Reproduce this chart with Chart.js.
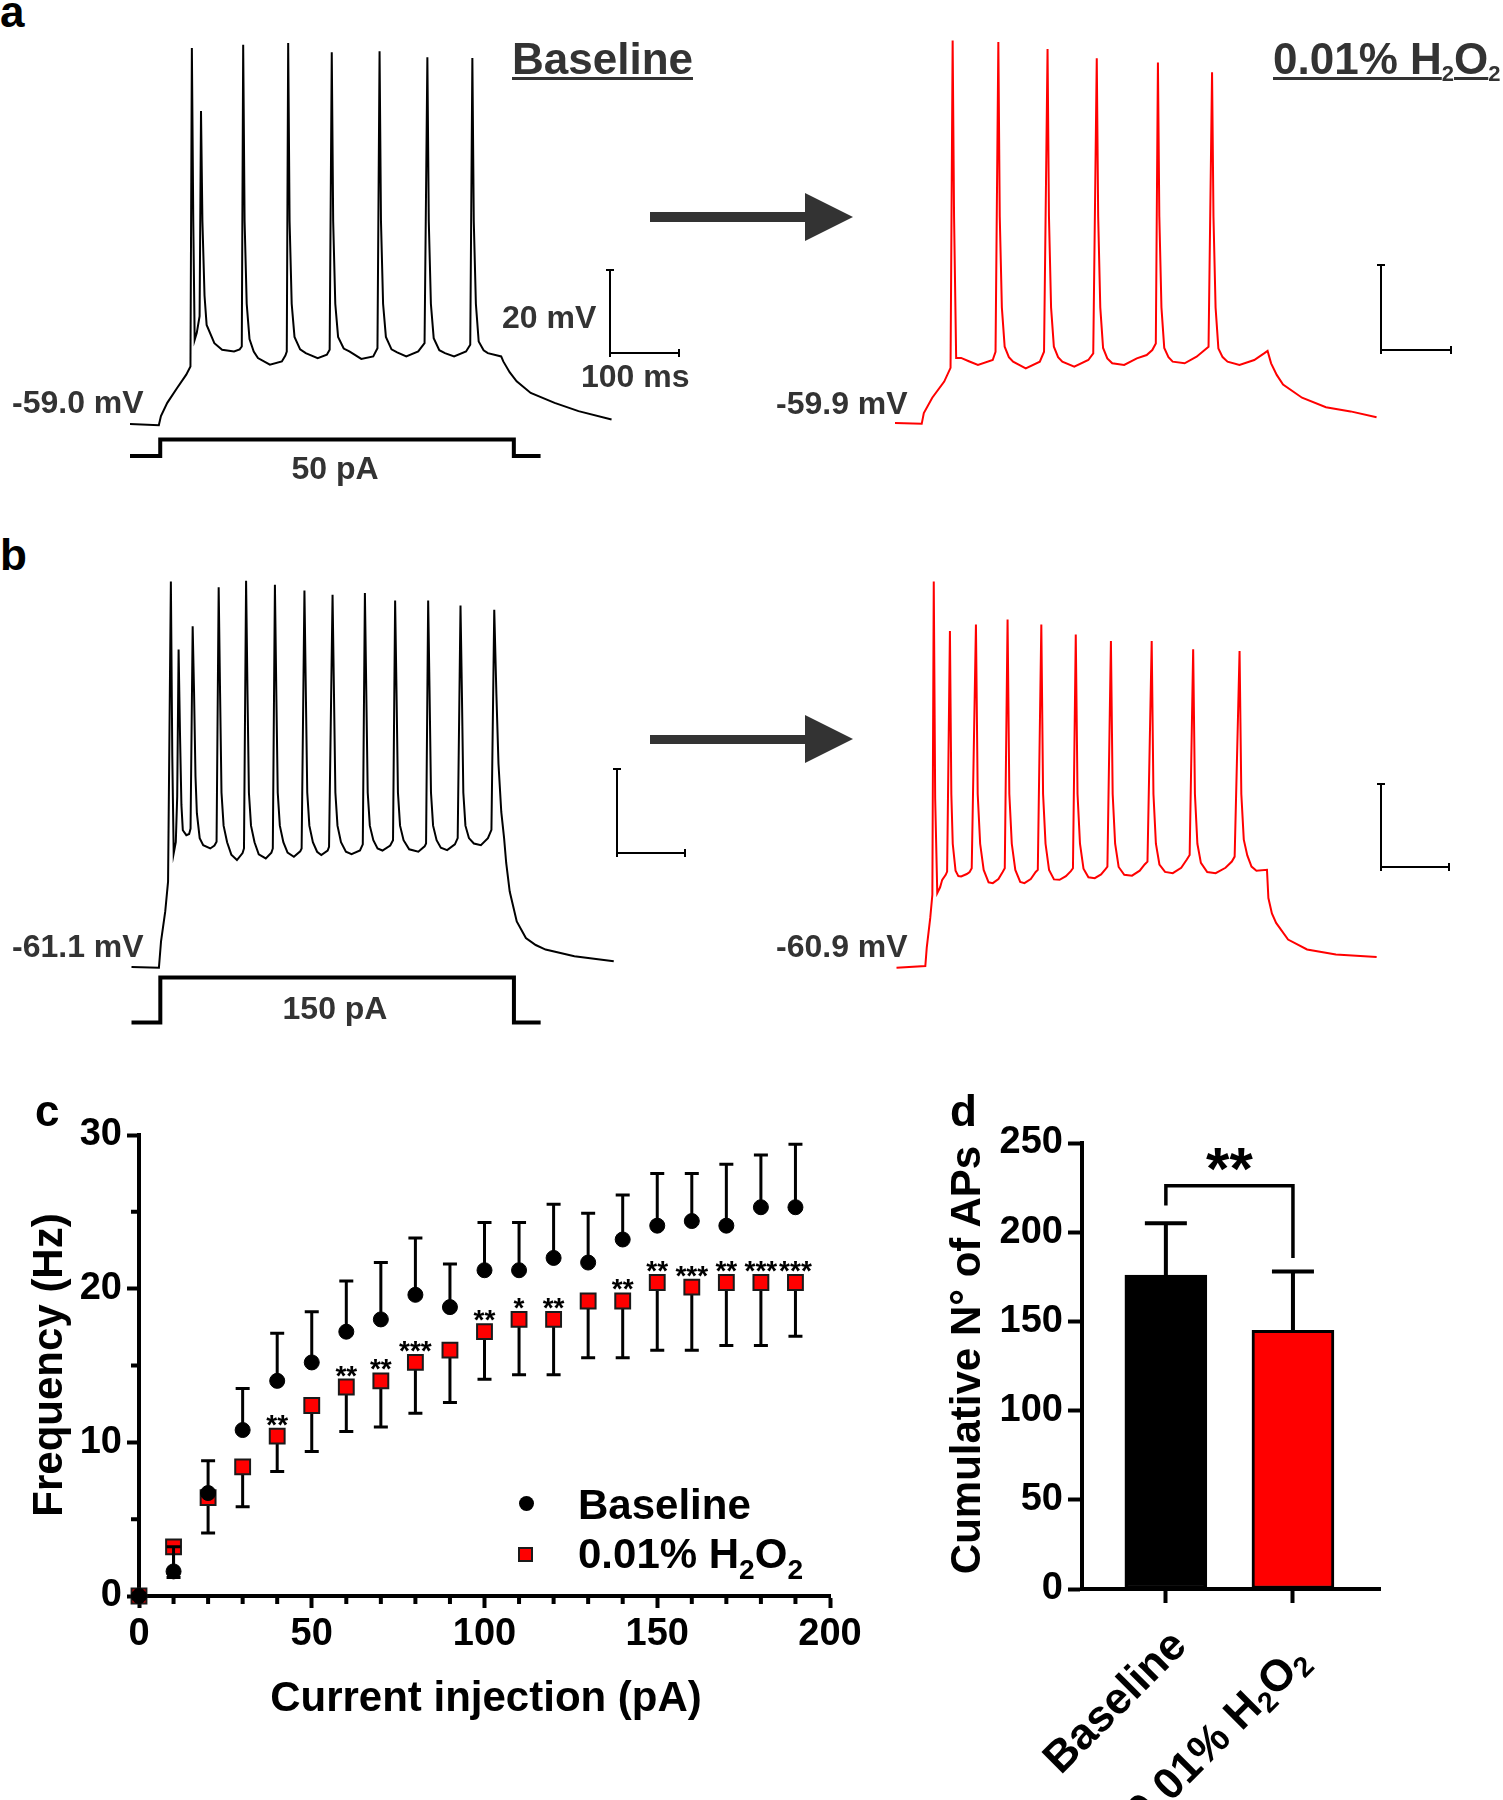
<!DOCTYPE html>
<html>
<head>
<meta charset="utf-8">
<script src="https://cdn.jsdelivr.net/npm/chart.js@4.4.0/dist/chart.umd.min.js"></script>
<style>
  html, body { margin: 0; padding: 0; background: #fff; }
  #fig { position: relative; width: 1503px; height: 1800px; overflow: hidden;
         font-family: 'Liberation Sans', Arial, Helvetica, sans-serif; font-weight: bold; }
  canvas { position: absolute; }
  .t { position: absolute; white-space: nowrap; line-height: 1; }
  .r { position: absolute; }
  sub { font-size: 0.6em; vertical-align: -0.25em; line-height: 0; }
</style>
</head>
<body>
<div id="fig"></div>
<script>
const FONT = "'Liberation Sans', Arial, Helvetica, sans-serif";
Chart.defaults.font.family = FONT;

// ---------- panel a / b : membrane potential traces  [ms, mV] ----------
const aBaseline = [[0,-59.0],[41,-59.3],[44,-57.1],[53,-53.9],[67,-50.3],[80,-47.1],[86,-45.1],[88,31.7],[90,-10],[92,-38.7],[95,-37],
  [99,-33],[101,16.5],[103,-10],[106,-28],[109,-35.1],[120,-39.5],[131,-41.1],[148,-41.5],[156,-41],[159,-40.3],
  [161,32.5],[163,-10],[166,-30],[170,-38.5],[176,-41.5],[182,-43.1],[199,-44.7],[216,-43.9],[221,-42.5],[223,-41.5],
  [225,32.9],[227,-10],[230,-30],[234,-38],[242,-41],[250,-41.9],[267,-43.1],[280,-42.3],[284,-41.1],
  [287,30.7],[289,-10],[292,-30],[296,-38],[304,-40.8],[312,-41.5],[329,-43.3],[346,-42.7],[352,-40.7],
  [355,30.9],[357,-10],[360,-30],[364,-38],[372,-41],[380,-41.7],[393,-42.7],[410,-41.5],[419,-39.5],
  [423,29.5],[425,-10],[428,-30],[432,-38.3],[440,-41.2],[448,-41.9],[461,-42.7],[478,-41.5],[484,-39.9],
  [487,29.3],[489,-10],[492,-30],[496,-39.1],[503,-41.2],[509,-41.9],[528,-42.7],[531,-43.9],[540,-46.5],[550,-48.7],
  [570,-51.5],[604,-53.9],[638,-55.9],[685,-57.9]];
const aH2O2 = [[0,-59.9],[38,-60.1],[41,-57.5],[53,-53.8],[70,-49.9],[79,-46.6],[82,32.4],[84,-10],[87,-44.2],[94,-44.2],
  [105,-45],[118,-45.9],[139,-44.7],[143,-42.7],[147,32.0],[149,-10],[152,-32],[156,-41.5],[162,-44],[168,-45.1],[186,-46.7],
  [206,-45.1],[212,-42.7],[217,30.3],[219,-10],[222,-32],[226,-41.5],[232,-44],[238,-45.1],[255,-46.3],[275,-44.7],[282,-43.1],
  [287,28.1],[289,-10],[292,-32],[296,-41.8],[302,-44.3],[309,-45.5],[326,-45.9],[344,-44.3],[358,-43.5],[366,-42.3],[371,-40.7],
  [374,27.1],[376,-10],[379,-32],[383,-41.8],[389,-44],[395,-45.1],[412,-45.5],[429,-43.9],[446,-41.5],
  [451,24.7],[453,-10],[456,-32],[460,-41.9],[466,-44],[473,-45.1],[490,-45.9],[511,-44.7],[525,-43.1],[530,-42.5],
  [535,-45.5],[543,-48.3],[552,-50.6],[579,-53.8],[613,-56.1],[648,-57.1],[685,-58.5]];
const bBaseline = [[0,-61.1],[39,-61.3],[42,-54.9],[48,-47.7],[52,-40.5],[56,31.9],[58,-10],[60,-33.7],[63,-31],[65,-20],
  [67,15.5],[69,-5],[71,-22],[73,-28.1],[78,-29.3],[82,-29],[84,-27.7],
  [87,21.1],[89,5],[91,-15],[93,-24],[97,-30],[102,-31.7],[112,-32.5],[118,-31.8],[121,-30.9],
  [124,30.5],[126,5],[128,-19],[131,-27],[136,-31],[142,-34],[150,-35.3],[158,-33.6],[160,-32.5],
  [163,32.1],[165,5],[167,-19],[170,-27],[175,-31],[181,-33.9],[191,-34.9],[199,-33.5],[201,-32.5],
  [204,31.1],[206,5],[208,-19],[211,-27],[216,-31],[222,-33.5],[231,-34.5],[240,-33.2],[242,-32.5],
  [246,29.7],[248,5],[250,-19],[253,-27],[258,-31],[264,-33.3],[270,-34.1],[279,-33],[281,-32.1],
  [286,28.7],[288,5],[290,-19],[293,-27],[298,-31],[305,-33.3],[313,-33.9],[325,-33],[329,-31.5],
  [332,29.1],[334,5],[336,-19],[339,-27],[344,-30.5],[350,-32.5],[357,-33.0],[368,-31.8],[372,-30.5],
  [375,27.3],[377,5],[379,-19],[382,-27],[387,-30.5],[395,-32.7],[408,-33.3],[417,-32],[419,-31.3],
  [422,27.3],[424,5],[426,-19],[429,-27],[434,-30.5],[440,-32.3],[449,-32.9],[460,-31.5],[464,-30],
  [468,26.1],[470,5],[472,-19],[475,-27],[480,-30],[487,-31.3],[497,-31.7],[507,-30],[512,-28],
  [516,25.1],[519,5],[522,-12],[526,-23.7],[530,-30],[533,-36],[538,-42.9],[548,-50.1],[561,-54.1],[575,-55.8],
  [589,-56.9],[630,-58.5],[686,-59.7]];
const bH2O2 = [[0,-60.9],[41,-60.5],[43,-56.1],[48,-48.9],[51,-43.3],[53,32.3],[55,-20],[58,-42.9],[62,-41.5],[65,-39.7],
  [70,-38.5],[72,-37.7],
  [76,20.3],[78,-19],[80,-31],[84,-37.5],[88,-38.8],[92,-38.9],[100,-38.3],[104,-37.8],[107,-36.9],
  [113,21.9],[115.5,-19],[119,-31],[124,-37.3],[131,-40.3],[137,-40.5],[145,-39.5],[151,-37.8],[154,-36.9],
  [158,23.1],[160.5,-19],[164,-31],[169,-37.3],[176,-40.2],[182,-40.5],[191,-39.5],[198,-37.8],[201,-37.3],
  [206,21.9],[208.5,-19],[212,-31],[217,-37.3],[224,-39.6],[232,-39.7],[241,-38.8],[248,-37.6],[251,-36.9],
  [255,19.5],[257.5,-19],[261,-31],[266,-37],[273,-39.1],[282,-39.3],[291,-38.4],[297,-37.2],[300,-36.5],
  [305,17.9],[307.5,-19],[311,-31],[316,-36.6],[324,-38.5],[335,-38.7],[346,-37.5],[353,-36],[357,-35.3],
  [363,17.9],[365.5,-19],[369,-31],[374,-36],[382,-37.8],[393,-38.1],[405,-36.8],[413,-34.8],[417,-33.7],
  [422,15.9],[424.5,-19],[428,-31],[433,-35.6],[442,-37.8],[454,-38.1],[468,-36.8],[477,-35.3],[481,-34.1],
  [488,15.5],[490.5,-19],[494,-30],[499,-33.8],[505,-36.5],[512,-37.5],[527,-37.3],[529,-44.1],[534,-47.8],[540,-50.1],
  [557,-54.1],[584,-56.5],[625,-57.7],[683,-58.3]];
// current steps [ms, pA]
const aStep = [[0,0],[43,0],[43,50],[546,50],[546,0],[584,0]];
const bStep = [[0,0],[41,0],[41,150],[544,150],[544,0],[582,0]];

// ---------- panel c : frequency vs current ----------
const currentSteps = [0,10,20,30,40,50,60,70,80,90,100,110,120,130,140,150,160,170,180,190];
const baselineFreq = [0,1.6,6.7,10.8,14.0,15.2,17.2,18.0,19.6,18.8,21.2,21.2,22.0,21.7,23.2,24.1,24.4,24.1,25.3,25.3];
const baselineSem  = [0,1.6,2.1,2.7,3.1,3.3,3.3,3.7,3.7,2.8,3.1,3.1,3.5,3.2,2.9,3.4,3.1,4.0,3.4,4.1];
const h2o2Freq     = [0,3.2,6.4,8.4,10.4,12.4,13.6,14.0,15.2,16.0,17.2,18.0,18.0,19.2,19.2,20.4,20.1,20.4,20.4,20.4];
const h2o2Sem      = [0,2.0,2.3,2.6,2.3,3.0,2.9,3.0,3.3,3.4,3.1,3.6,3.6,3.7,3.7,4.4,4.1,4.1,4.1,3.5];
const sigStars     = ['','','','','**','','**','**','***','','**','*','**','','**','**','***','**','***','***'];

// ---------- panel d : cumulative APs ----------
const groups = ['Baseline', '0.01% H2O2'];
const groupPos = [1, 2];
const cumulativeAPs = [176, 145];
const cumulativeSem = [29, 33];
const bracketTop = 226, bracketLeftEnd = 215, bracketRightEnd = 185.5, bracketLabel = '**';

const fig = document.getElementById('fig');

function addCanvas(left, top, w, h) {
  const c = document.createElement('canvas');
  c.width = w; c.height = h;
  Object.assign(c.style, { left: left + 'px', top: top + 'px', width: w + 'px', height: h + 'px' });
  fig.appendChild(c);
  return c;
}

function text(html, x, base, size, opts = {}) {
  const d = document.createElement('div');
  d.className = 't';
  d.innerHTML = html;
  d.style.fontSize = size + 'px';
  d.style.top = (base - 0.8465 * size) + 'px';
  d.style.left = x + 'px';
  d.style.color = opts.color || '#000';
  if (opts.center) d.style.transform = 'translateX(-50%)';
  if (opts.underline) {
    d.style.textDecoration = 'underline';
    d.style.textDecorationThickness = '3px';
    d.style.textUnderlineOffset = '3px';
  }
  fig.appendChild(d);
  return d;
}

function rotText(html, x, y, size, angle, anchorRight) {
  const d = document.createElement('div');
  d.className = 't';
  d.innerHTML = html;
  d.style.fontSize = size + 'px';
  d.style.left = x + 'px';
  d.style.top = y + 'px';
  if (anchorRight) {
    d.style.transformOrigin = '100% 50%';
    d.style.transform = `translate(-100%,-50%) rotate(${angle}deg)`;
  } else {
    d.style.transform = `translate(-50%,-50%) rotate(${angle}deg)`;
  }
  fig.appendChild(d);
}

function box(x, y, w, h, color) {
  const d = document.createElement('div');
  d.className = 'r';
  Object.assign(d.style, { left: x + 'px', top: y + 'px', width: w + 'px', height: h + 'px', background: color });
  fig.appendChild(d);
  return d;
}

function scaleBar(xv, yTop, yCorner, xRight) {
  box(xv - 1, yTop, 2, yCorner - yTop + 1, '#000');
  box(xv - 1, yCorner - 1, xRight - xv + 1, 2, '#000');
  box(xv - 4, yTop - 1, 8, 2, '#000');
  box(xv - 1, yCorner - 4, 2, 8, '#000');
  box(xRight - 1, yCorner - 4, 2, 8, '#000');
}

function arrow(x0, yc) {
  box(x0, yc - 4.7, 157, 9.5, '#333');
  const tri = document.createElement('div');
  tri.className = 'r';
  Object.assign(tri.style, { left: (x0 + 155) + 'px', top: (yc - 24.5) + 'px', width: 0, height: 0,
    borderLeft: '48px solid #333', borderTop: '24.5px solid transparent', borderBottom: '24.5px solid transparent' });
  fig.appendChild(tri);
}

// ---------- traces ----------
const PX_MS = 0.703, PX_MV = 4.145;

function traceChart(area, ref, trace, color, step) {
  const cv = addCanvas(area.left, area.top, area.w, area.h);
  const datasets = [{
    data: trace.map(([t, v]) => ({ x: t, y: v })),
    showLine: true, borderColor: color, borderWidth: 2, pointRadius: 0, tension: 0, yAxisID: 'y'
  }];
  const scales = {
    x: { type: 'linear', display: false,
         min: (area.left - ref.x0) / PX_MS, max: (area.left + area.w - ref.x0) / PX_MS },
    y: { type: 'linear', display: false,
         min: ref.v0 - (area.top + area.h - ref.y0) / PX_MV, max: ref.v0 + (ref.y0 - area.top) / PX_MV }
  };
  if (step) {
    datasets.push({
      data: step.map(([t, i]) => ({ x: t, y: i })),
      showLine: true, borderColor: '#000', borderWidth: 4, pointRadius: 0, tension: 0,
      borderJoinStyle: 'miter', yAxisID: 'yI'
    });
    scales.yI = { type: 'linear', display: false,
      min: -(area.top + area.h - ref.s0) / ref.pxPa, max: (ref.s0 - area.top) / ref.pxPa };
  }
  new Chart(cv, {
    type: 'scatter',
    data: { datasets },
    options: { responsive: false, animation: false, events: [], layout: { padding: 0 },
      plugins: { legend: { display: false }, tooltip: { enabled: false } }, scales }
  });
}

traceChart({ left: 120, top: 30, w: 520, h: 460 }, { x0: 130, y0: 424, v0: -59.0, s0: 456, pxPa: 0.332 }, aBaseline, '#000', aStep);
traceChart({ left: 880, top: 30, w: 520, h: 430 }, { x0: 895, y0: 423, v0: -59.9 }, aH2O2, '#ff0000');
traceChart({ left: 120, top: 560, w: 520, h: 480 }, { x0: 131.5, y0: 967, v0: -61.1, s0: 1022.4, pxPa: 0.2987 }, bBaseline, '#000', bStep);
traceChart({ left: 880, top: 560, w: 520, h: 440 }, { x0: 896.5, y0: 967.7, v0: -60.9 }, bH2O2, '#ff0000');

// ---------- panel c ----------
const tickFont = { size: 38, weight: 'bold' };
const axisGrid = { drawOnChartArea: false, drawTicks: true, tickLength: 12, tickWidth: 4, tickColor: '#000' };
const axisBorder = { display: true, width: 4, color: '#000' };

const freqPlugin = {
  id: 'freqExtras',
  beforeDatasetDraw(chart, args) {
    const { ctx, scales: { x, y } } = chart;
    const up = args.index === 0;
    const vals = up ? baselineFreq : h2o2Freq;
    const sems = up ? baselineSem : h2o2Sem;
    ctx.save();
    ctx.strokeStyle = '#000';
    ctx.lineWidth = 3;
    currentSteps.forEach((c, k) => {
      if (!sems[k]) return;
      const px = x.getPixelForValue(c);
      const p0 = y.getPixelForValue(vals[k]);
      const p1 = y.getPixelForValue(vals[k] + (up ? sems[k] : -sems[k]));
      ctx.beginPath();
      ctx.moveTo(px, p0); ctx.lineTo(px, p1);
      ctx.moveTo(px - 7, p1); ctx.lineTo(px + 7, p1);
      ctx.stroke();
    });
    ctx.restore();
  },
  afterDraw(chart) {
    const { ctx, scales: { x, y }, chartArea } = chart;
    ctx.save();
    ctx.strokeStyle = '#000';
    ctx.lineWidth = 4;
    ctx.beginPath();
    for (let v = 10; v < 200; v += 10) {
      if (v % 50 === 0) continue;
      const px = x.getPixelForValue(v);
      ctx.moveTo(px, chartArea.bottom); ctx.lineTo(px, chartArea.bottom + 8);
    }
    for (let v = 5; v < 30; v += 10) {
      const py = y.getPixelForValue(v);
      ctx.moveTo(chartArea.left, py); ctx.lineTo(chartArea.left - 8, py);
    }
    ctx.stroke();
    ctx.fillStyle = '#000';
    ctx.font = `bold 28px ${FONT}`;
    ctx.textAlign = 'center';
    ctx.textBaseline = 'alphabetic';
    currentSteps.forEach((c, k) => {
      if (!sigStars[k]) return;
      ctx.fillText(sigStars[k], x.getPixelForValue(c), y.getPixelForValue(h2o2Freq[k]) - 2.5);
    });
    ctx.restore();
  }
};

new Chart(addCanvas(0, 1100, 880, 700), {
  type: 'scatter',
  data: {
    datasets: [
      { label: 'Baseline', data: currentSteps.map((c, i) => ({ x: c, y: baselineFreq[i] })),
        pointStyle: 'circle', pointRadius: 7.5, pointBackgroundColor: '#000', pointBorderColor: '#000',
        pointBorderWidth: 1, clip: false },
      { label: '0.01% H2O2', data: currentSteps.map((c, i) => ({ x: c, y: h2o2Freq[i] })),
        pointStyle: 'rect', pointRadius: 10.5, pointBackgroundColor: '#ff0000', pointBorderColor: '#1a1a1a',
        pointBorderWidth: 2, clip: false }
    ]
  },
  options: {
    responsive: false, animation: false, events: [],
    layout: { padding: { top: 35, right: 50, left: 0, bottom: 0 } },
    plugins: { legend: { display: false }, tooltip: { enabled: false } },
    scales: {
      x: { type: 'linear', min: 0, max: 200,
           ticks: { stepSize: 50, color: '#000', font: tickFont, padding: 4, maxRotation: 0 },
           grid: axisGrid, border: axisBorder, afterFit(s) { s.height = 204; } },
      y: { type: 'linear', min: 0, max: 30,
           ticks: { stepSize: 10, color: '#000', font: tickFont, padding: 5 },
           grid: axisGrid, border: axisBorder, afterFit(s) { s.width = 139; } }
    }
  },
  plugins: [freqPlugin]
});

// ---------- panel d ----------
const barPlugin = {
  id: 'barExtras',
  afterDatasetsDraw(chart) {
    const { ctx, scales: { x, y } } = chart;
    ctx.save();
    ctx.strokeStyle = '#000';
    ctx.lineWidth = 4;
    groupPos.forEach((p, i) => {
      const px = x.getPixelForValue(p);
      const top = y.getPixelForValue(cumulativeAPs[i]);
      const e = y.getPixelForValue(cumulativeAPs[i] + cumulativeSem[i]);
      ctx.beginPath();
      ctx.moveTo(px, top); ctx.lineTo(px, e);
      ctx.moveTo(px - 21, e); ctx.lineTo(px + 21, e);
      ctx.stroke();
    });
    const xl = x.getPixelForValue(groupPos[0]), xr = x.getPixelForValue(groupPos[1]);
    const yb = y.getPixelForValue(bracketTop);
    ctx.lineWidth = 3.5;
    ctx.beginPath();
    ctx.moveTo(xl, y.getPixelForValue(bracketLeftEnd));
    ctx.lineTo(xl, yb); ctx.lineTo(xr, yb);
    ctx.lineTo(xr, y.getPixelForValue(bracketRightEnd));
    ctx.stroke();
    ctx.fillStyle = '#000';
    ctx.font = `bold 60px ${FONT}`;
    ctx.textAlign = 'center';
    ctx.textBaseline = 'alphabetic';
    ctx.fillText(bracketLabel, (xl + xr) / 2, yb + 3);
    ctx.restore();
  }
};

new Chart(addCanvas(920, 1100, 583, 700), {
  type: 'bar',
  data: {
    datasets: [{
      data: groupPos.map((p, i) => ({ x: p, y: cumulativeAPs[i] })),
      backgroundColor: ['#000', '#ff0000'], borderColor: '#000', borderWidth: 3,
      borderSkipped: false, barThickness: 82
    }]
  },
  options: {
    responsive: false, animation: false, events: [],
    layout: { padding: { top: 43, right: 123, left: 0, bottom: 0 } },
    plugins: { legend: { display: false }, tooltip: { enabled: false } },
    scales: {
      x: { type: 'linear', offset: false, min: 0.34, max: 2.685,
           afterBuildTicks(s) { s.ticks = groupPos.map(v => ({ value: v })); },
           ticks: { display: false },
           grid: { offset: false, drawOnChartArea: false, drawTicks: true, tickLength: 14, tickWidth: 4, tickColor: '#000' },
           border: axisBorder, afterFit(s) { s.height = 211; } },
      y: { type: 'linear', min: 0, max: 250,
           ticks: { stepSize: 50, color: '#000', font: tickFont, padding: 5 },
           grid: { drawOnChartArea: false, drawTicks: true, tickLength: 14, tickWidth: 4, tickColor: '#000' },
           border: axisBorder, afterFit(s) { s.width = 162; } }
    }
  },
  plugins: [barPlugin]
});

// ---------- annotations ----------
const G = '#333';
text('a', 0, 27, 44);
text('b', 0, 570, 44);
text('c', 35, 1126, 44);
text('d', 950, 1126, 44);

text('Baseline', 512, 74, 44, { color: G, underline: true });
text('0.01% H<sub style="font-size:0.5em;vertical-align:-7px">2</sub>O<sub style="font-size:0.5em;vertical-align:-7px">2</sub>', 1273, 74, 44, { color: G, underline: true });
text('-59.0 mV', 12, 413, 32, { color: G });
text('20 mV', 502, 327.6, 32, { color: G });
text('100 ms', 581, 387.3, 32, { color: G });
text('50 pA', 335, 479, 32, { color: G, center: true });
text('-59.9 mV', 776, 414, 32, { color: G });
text('-61.1 mV', 12, 957, 32, { color: G });
text('150 pA', 335, 1019, 32, { color: G, center: true });
text('-60.9 mV', 776, 957, 32, { color: G });

scaleBar(610, 270, 353, 679);
scaleBar(1381, 265, 350, 1451);
scaleBar(617, 769, 852.6, 685);
scaleBar(1380.5, 783.6, 867, 1449);

arrow(650, 217);
arrow(650, 739.5);

// panel c titles + legend
rotText('Frequency (Hz)', 48, 1365, 42, -90);
text('Current injection (pA)', 486, 1711.5, 42, { center: true });
const dot = box(518.5, 1496, 15, 15, '#000'); dot.style.borderRadius = '50%';
const sq = box(518, 1546.5, 15, 15, '#ff0000'); sq.style.border = '2px solid #1a1a1a'; sq.style.boxSizing = 'border-box';
text(groups[0], 578, 1519.6, 42);
text('0.01% H<sub style="font-size:0.67em;vertical-align:-11px">2</sub>O<sub style="font-size:0.67em;vertical-align:-11px">2</sub>', 578, 1568.7, 42);

// panel d titles + rotated category labels
rotText('Cumulative N° of APs', 965.5, 1360, 42, -90);
rotText(groups[0], 1178, 1637, 44, -45, true);
rotText('0.01% H<sub style="font-size:0.65em;vertical-align:-0.25em">2</sub>O<sub style="font-size:0.65em;vertical-align:-0.25em">2</sub>', 1300, 1652, 44, -45, true);
</script>
</body>
</html>
